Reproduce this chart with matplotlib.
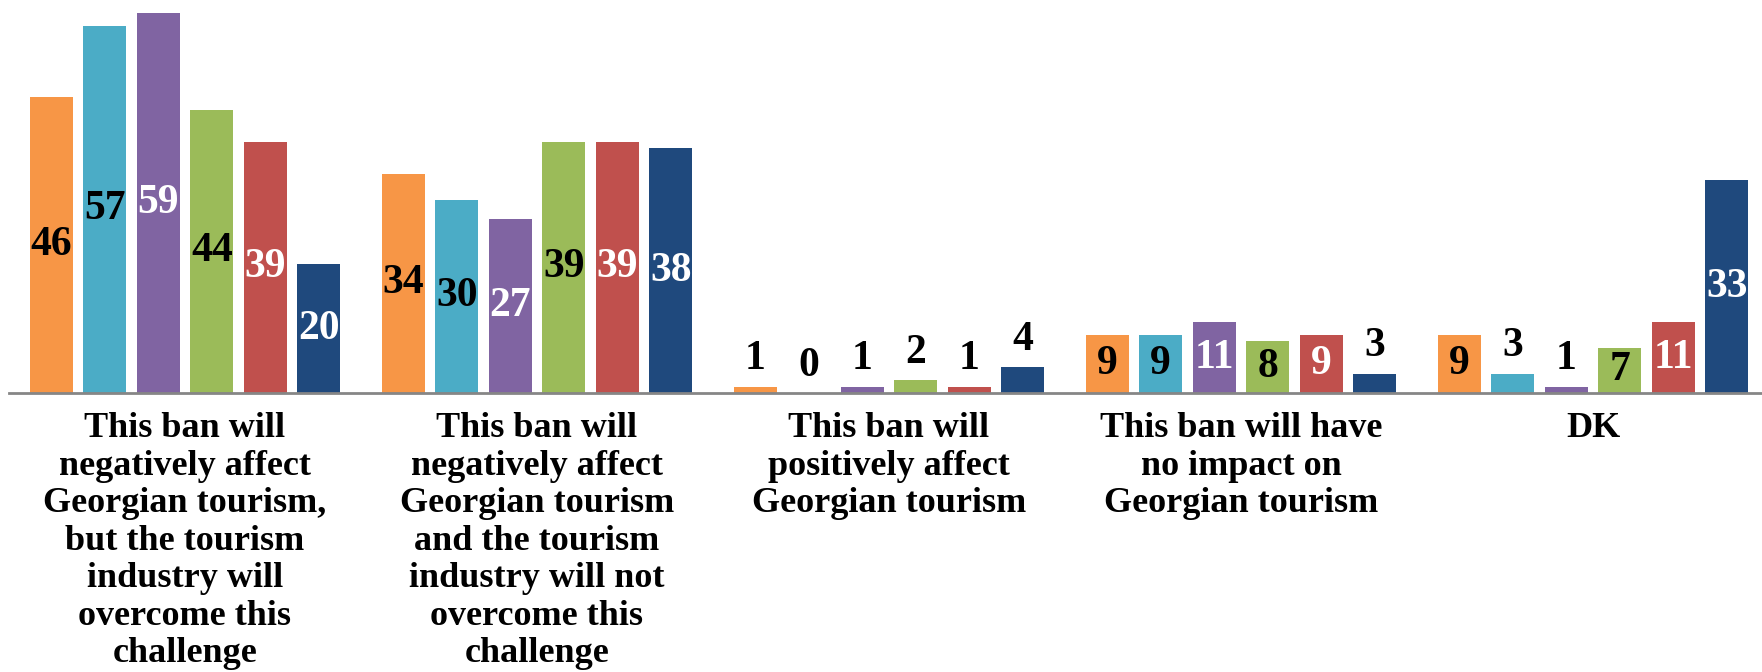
import matplotlib.pyplot as plt
import numpy as np

categories = [
    "This ban will\nnegatively affect\nGeorgian tourism,\nbut the tourism\nindustry will\novercome this\nchallenge",
    "This ban will\nnegatively affect\nGeorgian tourism\nand the tourism\nindustry will not\novercome this\nchallenge",
    "This ban will\npositively affect\nGeorgian tourism",
    "This ban will have\nno impact on\nGeorgian tourism",
    "DK",
]
series_1 = [46, 34, 1, 9, 9]
series_2 = [57, 30, 0, 9, 3]
series_3 = [59, 27, 1, 11, 1]
series_4 = [44, 39, 2, 8, 7]
series_5 = [39, 39, 1, 9, 11]
series_6 = [20, 38, 4, 3, 33]

all_series = [series_1, series_2, series_3, series_4, series_5, series_6]
colors = ["#F79646", "#4BACC6", "#8064A2", "#9BBB59", "#C0504D", "#1F497D"]
inside_text = ["black", "black", "white", "black", "white", "white"]

plt.rcParams['font.family'] = ['Liberation Serif', 'DejaVu Serif']

fig = plt.figure(figsize=(17.62, 6.72), dpi=100)
W, H = 1762, 672
ax = fig.add_axes([9 / W, 1 - 393 / H, 1760 / W, 393 / H])

x = np.arange(len(categories))
pitch = 0.152
bw = 0.121
for i, vals in enumerate(all_series):
    pos = x + (i - 2.5) * pitch
    bars = ax.bar(pos, vals, width=bw, color=colors[i], zorder=2)
    for b, v in zip(bars, vals):
        cx = b.get_x() + b.get_width() / 2
        if v >= 6:
            ax.text(cx, v / 2, str(v), ha='center', va='center',
                    fontsize=30, fontweight='bold', color=inside_text[i])
        else:
            ax.annotate(str(v), (cx, v), xytext=(0, 6), textcoords='offset points',
                        ha='center', va='bottom', fontsize=30, fontweight='bold',
                        color='black')

ax.set_xlim(-0.5, 4.5)
ax.set_ylim(0, 61)
ax.set_yticks([])
ax.set_xticks(x)
ax.set_xticklabels(categories, fontsize=26, fontweight='bold', linespacing=1.18, va='top')
ax.tick_params(axis='x', length=0, pad=14)
for s in ['top', 'right', 'left']:
    ax.spines[s].set_visible(False)
ax.spines['bottom'].set_color('#868686')
ax.spines['bottom'].set_linewidth(2)

fig.savefig('out.png', dpi=100)
